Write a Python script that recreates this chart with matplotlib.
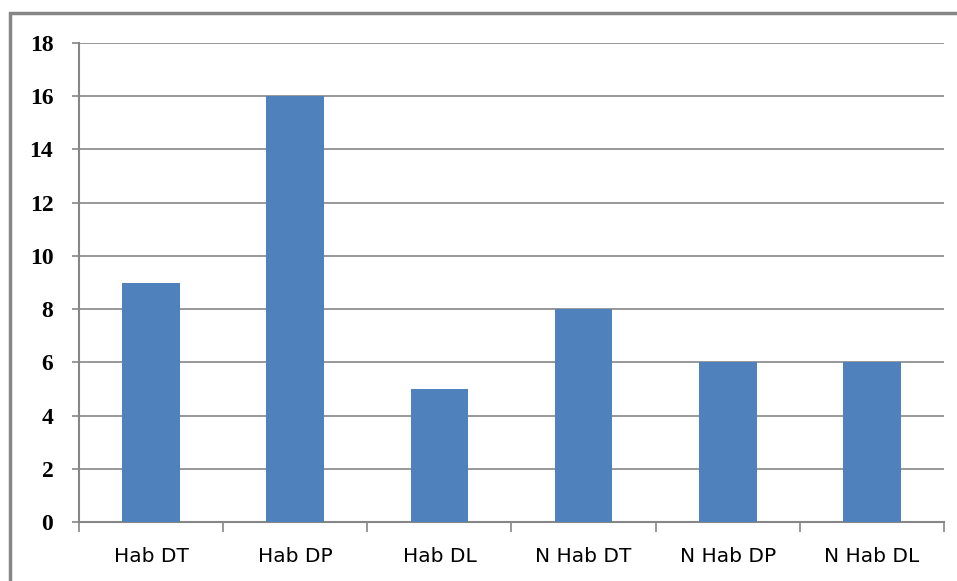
import matplotlib.pyplot as plt
import matplotlib.patches as patches
import numpy as np

# Chart data
categories = ["Hab DT", "Hab DP", "Hab DL", "N Hab DT", "N Hab DP", "N Hab DL"]
values = [9, 16, 5, 8, 6, 6]
y_ticks = [0, 2, 4, 6, 8, 10, 12, 14, 16, 18]

grey = "#868686"
bar_color = "#4F81BD"

fig = plt.figure(figsize=(9.57, 5.81), dpi=100)
ax = fig.add_axes([79 / 957, 1 - 522 / 581, (944 - 79) / 957, (522 - 43) / 581])

x = np.arange(len(categories))
ax.bar(x, values, width=0.4, color=bar_color, zorder=3)

ax.set_xlim(-0.5, len(categories) - 0.5)
ax.set_ylim(0, 18)

# y axis
ax.set_yticks(y_ticks)
ax.set_yticklabels([str(v) for v in y_ticks], family="Liberation Serif",
                   fontsize=17, fontweight="bold")
ax.yaxis.grid(True, color=grey, linewidth=1.2, zorder=0)
ax.tick_params(axis="y", length=5, width=1.2, color=grey, pad=13.5)

# x axis: ticks on boundaries, labels at centres
ax.set_xticks(np.arange(len(categories) + 1) - 0.5)
ax.set_xticklabels([])
ax.set_xticks(x, minor=True)
ax.set_xticklabels(categories, minor=True, family="DejaVu Sans", fontsize=14.5)
ax.tick_params(axis="x", which="major", length=7, width=1.2, color=grey)
ax.tick_params(axis="x", which="minor", length=0, pad=18)

for side in ["top", "right"]:
    ax.spines[side].set_visible(False)
for side in ["left", "bottom"]:
    ax.spines[side].set_color(grey)
    ax.spines[side].set_linewidth(1.5)

# outer chart border (only top and left visible)
border = patches.Rectangle((10 / 957, -0.2), 1.2, 0.2 + 1 - 13 / 581,
                           transform=fig.transFigure, fill=False,
                           edgecolor=grey, linewidth=2.5)
fig.patches.append(border)

fig.savefig("out.png", dpi=100)
